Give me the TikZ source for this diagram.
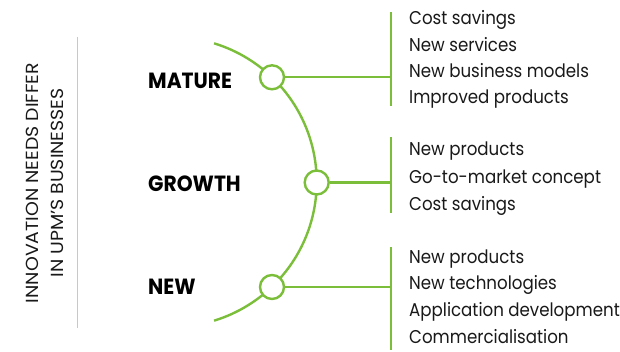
\documentclass[tikz,border=0pt]{standalone}
\usepackage{fontspec}
\setmainfont{Poppins}
\newfontfamily\itemfont[FakeStretch=0.9]{Poppins}
\newfontfamily\sidefont[FakeStretch=1.08]{Poppins}
\newfontfamily\stagefont[FakeStretch=0.92]{Poppins}
\definecolor{upmgreen}{RGB}{122,190,58}
\definecolor{rulegray}{RGB}{200,200,200}
\definecolor{txt}{RGB}{25,25,25}
\begin{document}
\begin{tikzpicture}[x=1pt,y=-1pt,
  greenline/.style={draw=upmgreen,line width=2.4pt},
  stagecirc/.style={circle,draw=upmgreen,line width=2.4pt,fill=white,minimum size=24pt,inner sep=0pt},
  item/.style={anchor=base west,inner sep=0pt,text=txt,font=\itemfont\fontsize{18.5}{22}\selectfont},
  stage/.style={anchor=base west,inner sep=0pt,text=black,font=\stagefont\bfseries\fontsize{22}{26}\selectfont},
  side/.style={rotate=90,inner sep=0pt,text=txt,font=\sidefont\fontsize{17.5}{20}\selectfont}]
\useasboundingbox (0,0) rectangle (620,352);
% side title
\draw[rulegray,line width=1.5pt] (77.5,37) coordinate (g1) -- (77.5,328) coordinate (g2);
\node[side] (t1) at (32,183) {INNOVATION NEEDS DIFFER};
\node[side] (t2) at (57.5,183) {IN UPM’S BUSINESSES};
% arc
\draw[greenline] plot[domain=-73:73,samples=80] ({171.7+145*cos(\x)},{182+145*sin(\x)});
% circles
\node[stagecirc] (cm) at (272,77.3) {};
\node[stagecirc] (cg) at (316.7,182.5) {};
\node[stagecirc] (cn) at (272,287) {};
% bars
\coordinate (bm) at (391,77.3);
\coordinate (bg) at (391,182.5);
\coordinate (bn) at (391,287);
\draw[greenline] (391,12) -- (391,106);
\draw[greenline] (391,137) -- (391,213);
\draw[greenline] (391,247) -- (391,350);
\draw[greenline] (cm) -- (bm);
\draw[greenline] (cg) -- (bg);
\draw[greenline] (cn) -- (bn);
% stage labels
\node[stage] (lm) at (148,89) {MATURE};
\node[stage] (lg) at (148,192) {GROWTH};
\node[stage] (ln) at (148,294) {NEW};
% items
\node[item] (m1) at (409,25) {Cost savings};
\node[item] (m2) at (409,52) {New services};
\node[item] (m3) at (409,78) {New business models};
\node[item] (m4) at (409,103.5) {Improved products};
\node[item] (g1t) at (409,155.5) {New products};
\node[item] (g2t) at (409,183.5) {Go-to-market concept};
\node[item] (g3t) at (409,211) {Cost savings};
\node[item] (n1) at (409,263) {New products};
\node[item] (n2) at (409,289.5) {New technologies};
\node[item] (n3) at (409,316) {Application development};
\node[item] (n4) at (409,343) {Commercialisation};
\end{tikzpicture}
\end{document}
